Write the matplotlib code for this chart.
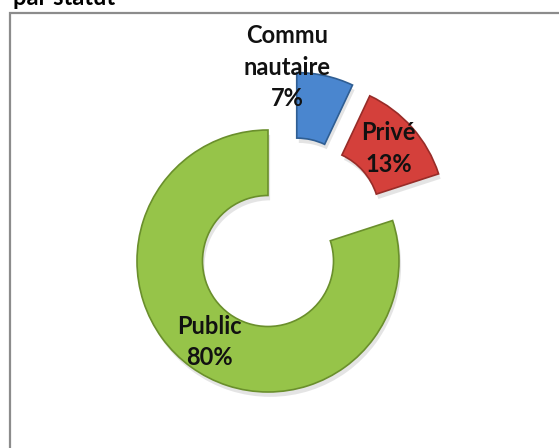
import matplotlib.pyplot as plt
import matplotlib.patheffects as pe
from matplotlib.patches import Rectangle
import numpy as np

# data
categories = ['Commu\nnautaire', 'Privé', 'Public']
values = [7, 13, 80]

# style
colors = ['#4A86CF', '#D4403B', '#96C449']
edges = ['#2F5E93', '#982C28', '#6A8F2C']
explode = [0.49, 0.5, 0.0]
angle_tweak = [-14, 4, 0]   # degrees, shift of explode direction
label_pos = [(0.145, 1.48), (0.92, 0.86), (-0.45, -0.62)]

W, H = 559, 448
cx, cy, R = 268, 261, 131   # pixel centre and outer radius

fig = plt.figure(figsize=(W / 100, H / 100), dpi=100)
ax = fig.add_axes([0, 0, 1, 1])

# frame (cut off at right and bottom like the original)
fig.patches.append(Rectangle((10 / W, -0.02), 1.1, 1 - 13 / H + 0.02,
                             transform=fig.transFigure, fill=False,
                             edgecolor='#8C8C8C', linewidth=1.6))

fig.text(13 / W, 1 - 5 / H, 'par statut', fontsize=17, fontweight='bold',
         family=['Lato', 'DejaVu Sans'], ha='left', va='baseline')

wedges, _ = ax.pie(values, radius=1, startangle=90, counterclock=False,
                   colors=colors, explode=explode,
                   wedgeprops=dict(width=0.5, linewidth=1.2))

for w, e, tw, ec in zip(wedges, explode, angle_tweak, edges):
    th = np.deg2rad((w.theta1 + w.theta2) / 2 + tw)
    w.set_center((e * np.cos(th), e * np.sin(th)))
    w.set_edgecolor(ec)
    w.set_path_effects([pe.SimplePatchShadow(offset=(1.5, -3.5), shadow_rgbFace='#888888', alpha=0.22),
                        pe.Normal()])

for cat, v, (x, y) in zip(categories, values, label_pos):
    ax.text(x, y, '%s\n%d%%' % (cat, v), ha='center', va='center',
            fontsize=17, fontweight='bold', family=['Lato', 'DejaVu Sans'],
            linespacing=1.45, color='#111111')

# pie resets the limits, so set them afterwards
ax.set_xlim(-cx / R, (W - cx) / R)
ax.set_ylim(-(H - cy) / R, cy / R)
ax.set_aspect('equal')
ax.axis('off')

fig.savefig('out.png', dpi=100)
